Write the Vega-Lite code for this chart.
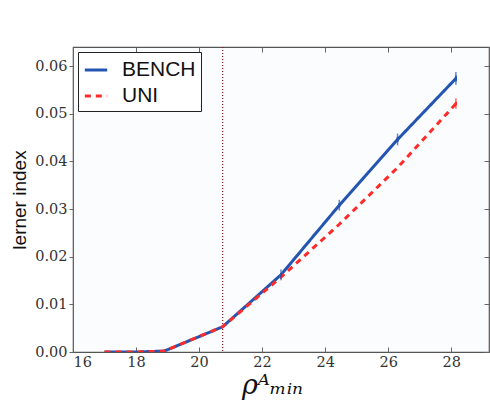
{
  "$schema": "https://vega.github.io/schema/vega-lite/v6.json",
  "autosize": "none",
  "width": 416,
  "height": 305,
  "padding": {"left": 73, "top": 47, "right": 1, "bottom": 56},
  "background": "white",
  "config": {
    "view": {"stroke": "#555555", "strokeWidth": 1.2, "fill": "#fbfcfd"},
    "axis": {
      "labelFont": "DejaVu Serif",
      "labelFontSize": 14.5,
      "labelColor": "#333333",
      "domain": false,
      "grid": false,
      "tickColor": "#666666"
    }
  },
  "datasets": {
    "series": [
      {"rho": 17.0, "lerner": 0.0, "series": "BENCH"},
      {"rho": 18.0, "lerner": 0.0, "series": "BENCH"},
      {"rho": 18.9, "lerner": 0.0002, "series": "BENCH"},
      {"rho": 20.75, "lerner": 0.0053, "series": "BENCH"},
      {"rho": 22.6, "lerner": 0.0162, "series": "BENCH"},
      {"rho": 24.45, "lerner": 0.0308, "series": "BENCH"},
      {"rho": 26.3, "lerner": 0.0446, "series": "BENCH"},
      {"rho": 28.15, "lerner": 0.0574, "series": "BENCH"},
      {"rho": 17.0, "lerner": 0.0, "series": "UNI"},
      {"rho": 18.0, "lerner": 0.0, "series": "UNI"},
      {"rho": 18.9, "lerner": 0.0002, "series": "UNI"},
      {"rho": 20.75, "lerner": 0.0053, "series": "UNI"},
      {"rho": 22.6, "lerner": 0.0157, "series": "UNI"},
      {"rho": 24.45, "lerner": 0.0268, "series": "UNI"},
      {"rho": 26.3, "lerner": 0.0387, "series": "UNI"},
      {"rho": 28.15, "lerner": 0.0521, "series": "UNI"}
    ],
    "errors": [
      {"rho": 22.6, "lo": 0.0158, "hi": 0.0166, "series": "BENCH"},
      {"rho": 24.45, "lo": 0.0304, "hi": 0.0312, "series": "BENCH"},
      {"rho": 26.3, "lo": 0.0441, "hi": 0.0451, "series": "BENCH"},
      {"rho": 28.15, "lo": 0.0568, "hi": 0.058, "series": "BENCH"},
      {"rho": 28.15, "lo": 0.0518, "hi": 0.0525, "series": "UNI"}
    ],
    "vline": [{"rho": 20.75}]
  },
  "layer": [
    {
      "data": {"name": "vline"},
      "mark": {"type": "rule", "color": "#7a1515", "strokeDash": [1, 2], "strokeWidth": 1.2},
      "encoding": {
        "x": {
          "field": "rho", "type": "quantitative",
          "scale": {"domain": [16, 29.2], "nice": false, "zero": false},
          "axis": {"orient": "top", "labels": false, "title": null, "values": [16, 18, 20, 22, 24, 26, 28], "tickSize": -5}
        }
      }
    },
    {
      "data": {"name": "series"},
      "mark": {"type": "line", "strokeWidth": 3, "clip": true},
      "encoding": {
        "x": {
          "field": "rho", "type": "quantitative",
          "axis": {
            "orient": "bottom", "values": [16, 18, 20, 22, 24, 26, 28], "tickSize": -5,
            "labelPadding": 8, "title": "ρᴬₘᵢₙ", "titleFont": "DejaVu Serif", "titleFontStyle": "italic",
            "titleFontWeight": "normal", "titleFontSize": 27, "titlePadding": 4, "titleColor": "#111111", "titleX": 199
          }
        },
        "y": {
          "field": "lerner", "type": "quantitative",
          "scale": {"domain": [0, 0.064], "nice": false},
          "axis": {
            "orient": "left", "values": [0, 0.01, 0.02, 0.03, 0.04, 0.05, 0.06], "format": ".2f", "tickSize": 4,
            "labelPadding": 2, "title": "lerner index", "titleFont": "Liberation Sans", "titleFontSize": 19,
            "titleFontWeight": "normal", "titleColor": "#111111", "titlePadding": 5
          }
        },
        "color": {
          "field": "series", "type": "nominal",
          "scale": {"domain": ["BENCH", "UNI"], "range": ["#2455b0", "#ff2a2a"]},
          "legend": {
            "title": null, "orient": "top-left", "offset": 5,
            "symbolType": "stroke", "symbolSize": 500, "symbolStrokeWidth": 3,
            "labelFont": "Liberation Sans", "labelFontSize": 21, "labelColor": "#111111",
            "strokeColor": "#222222", "fillColor": "white", "padding": 5, "rowPadding": 3, "labelOffset": 13, "cornerRadius": 0
          }
        },
        "strokeDash": {
          "field": "series", "type": "nominal",
          "scale": {"domain": ["BENCH", "UNI"], "range": [[1, 0], [6, 5]]},
          "legend": {"title": null}
        }
      }
    },
    {
      "data": {"name": "errors"},
      "mark": {"type": "rule", "strokeWidth": 2},
      "encoding": {
        "x": {"field": "rho", "type": "quantitative", "axis": null},
        "y": {"field": "lo", "type": "quantitative", "axis": null},
        "y2": {"field": "hi"},
        "color": {"field": "series", "type": "nominal", "legend": null}
      }
    },
    {
      "data": {"name": "errors"},
      "mark": {"type": "tick", "thickness": 1.5, "size": 7},
      "encoding": {
        "x": {"field": "rho", "type": "quantitative", "axis": null},
        "y": {"field": "lo", "type": "quantitative", "axis": null},
        "color": {"field": "series", "type": "nominal", "legend": null}
      }
    },
    {
      "data": {"name": "errors"},
      "mark": {"type": "tick", "thickness": 1.5, "size": 7},
      "encoding": {
        "x": {"field": "rho", "type": "quantitative", "axis": null},
        "y": {"field": "hi", "type": "quantitative", "axis": {"orient": "right", "labels": false, "title": null, "values": [0, 0.01, 0.02, 0.03, 0.04, 0.05, 0.06], "tickSize": -5}},
        "color": {"field": "series", "type": "nominal", "legend": null}
      }
    }
  ],
  "resolve": {"axis": {"x": "independent", "y": "independent"}}
}
